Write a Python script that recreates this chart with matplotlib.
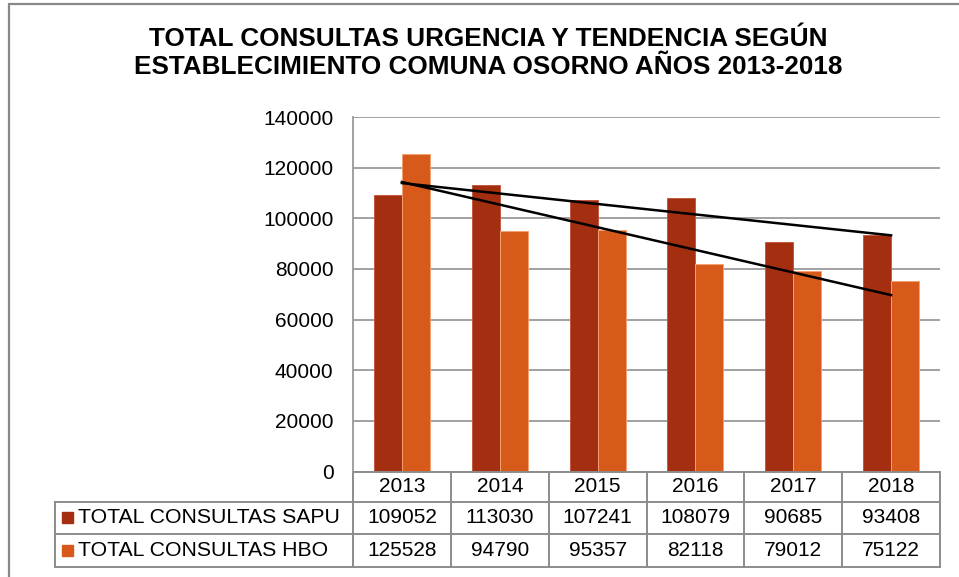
import numpy as np
import matplotlib.pyplot as plt
import matplotlib.transforms as mtransforms
from matplotlib.patches import Rectangle

plt.rcParams['font.family'] = ['Liberation Sans', 'DejaVu Sans']

years = ['2013', '2014', '2015', '2016', '2017', '2018']
sapu = [109052, 113030, 107241, 108079, 90685, 93408]
hbo = [125528, 94790, 95357, 82118, 79012, 75122]
series_names = ['TOTAL CONSULTAS SAPU', 'TOTAL CONSULTAS HBO']
colors = ['#A32E10', '#D75A1A']
edges = ['#C25A40', '#F2A270']

W, H = 959, 577
fig = plt.figure(figsize=(W / 100, H / 100), dpi=100)


def fx(px):
    return px / W


def fy(py):
    return 1 - py / H


# outer chart frame
fig.patches.append(Rectangle((fx(9), fy(600)), fx(980), fy(4) - fy(600),
                             transform=fig.transFigure, fill=False,
                             edgecolor='#888888', lw=1.6))

fig.text(fx(488), fy(53), 'TOTAL CONSULTAS URGENCIA Y TENDENCIA SEGÚN\n'
         'ESTABLECIMIENTO COMUNA OSORNO AÑOS 2013-2018',
         ha='center', va='center', fontsize=18.8, fontweight='bold',
         linespacing=1.24)

ax = fig.add_axes([fx(353), fy(471.5), fx(940) - fx(353), fy(117) - fy(471.5)])
x = np.arange(len(years))
w = 0.286
ax.bar(x - w / 2, sapu, w, color=colors[0], edgecolor=edges[0], lw=0.7, zorder=2)
ax.bar(x + w / 2, hbo, w, color=colors[1], edgecolor=edges[1], lw=0.7, zorder=2)

# linear trend lines
for vals in (sapu, hbo):
    m, b = np.polyfit(x, vals, 1)
    ax.plot([x[0], x[-1]], [m * x[0] + b, m * x[-1] + b], color='black', lw=1.8, zorder=3)

ax.set_xlim(-0.5, len(years) - 0.5)
ax.set_ylim(0, 140000)
ax.set_yticks(range(0, 140001, 20000))
ax.yaxis.grid(True, color='#9A9A9A', lw=1.3, zorder=0)
ax.set_axisbelow(True)
for s in ('top', 'right', 'bottom'):
    ax.spines[s].set_visible(False)
ax.spines['left'].set_color('#9A9A9A')
ax.spines['left'].set_linewidth(1.3)
ax.tick_params(axis='y', length=0, pad=14, labelsize=15)
ax.tick_params(axis='x', length=0, labelbottom=False)

# data table under the plot
tr = mtransforms.blended_transform_factory(ax.transData, fig.transFigure)
rows = [471.5, 501.5, 534, 566.7]
lc = '#8C8C8C'
line_kw = dict(color=lc, lw=1.4, clip_on=False)
x0, x1 = -0.5, len(years) - 0.5
for i, r in enumerate(rows):
    ax.plot([x0, x1], [fy(r), fy(r)], transform=tr, **line_kw)
    if i > 0:
        fig.add_artist(plt.Line2D([fx(55), fx(353)], [fy(r), fy(r)], color=lc, lw=1.4))
for k in range(len(years) + 1):
    ax.plot([k - 0.5, k - 0.5], [fy(rows[0]), fy(rows[-1])], transform=tr, **line_kw)
fig.add_artist(plt.Line2D([fx(55), fx(55)], [fy(rows[1]), fy(rows[-1])], color=lc, lw=1.4))

for i, yr in enumerate(years):
    ax.text(i, fy((rows[0] + rows[1]) / 2), yr, transform=tr, ha='center',
            va='center', fontsize=15)
for j, vals in enumerate((sapu, hbo)):
    yc = fy((rows[j + 1] + rows[j + 2]) / 2)
    for i, v in enumerate(vals):
        ax.text(i, yc, str(v), transform=tr, ha='center', va='center', fontsize=15)
    fig.patches.append(Rectangle((fx(62), yc - (fx(5.5) * W / H)), fx(11), fx(11) * W / H,
                                 transform=fig.transFigure, color=colors[j]))
    fig.text(fx(78), yc, series_names[j], ha='left', va='center', fontsize=15.3)

fig.savefig('out.png', dpi=100)
